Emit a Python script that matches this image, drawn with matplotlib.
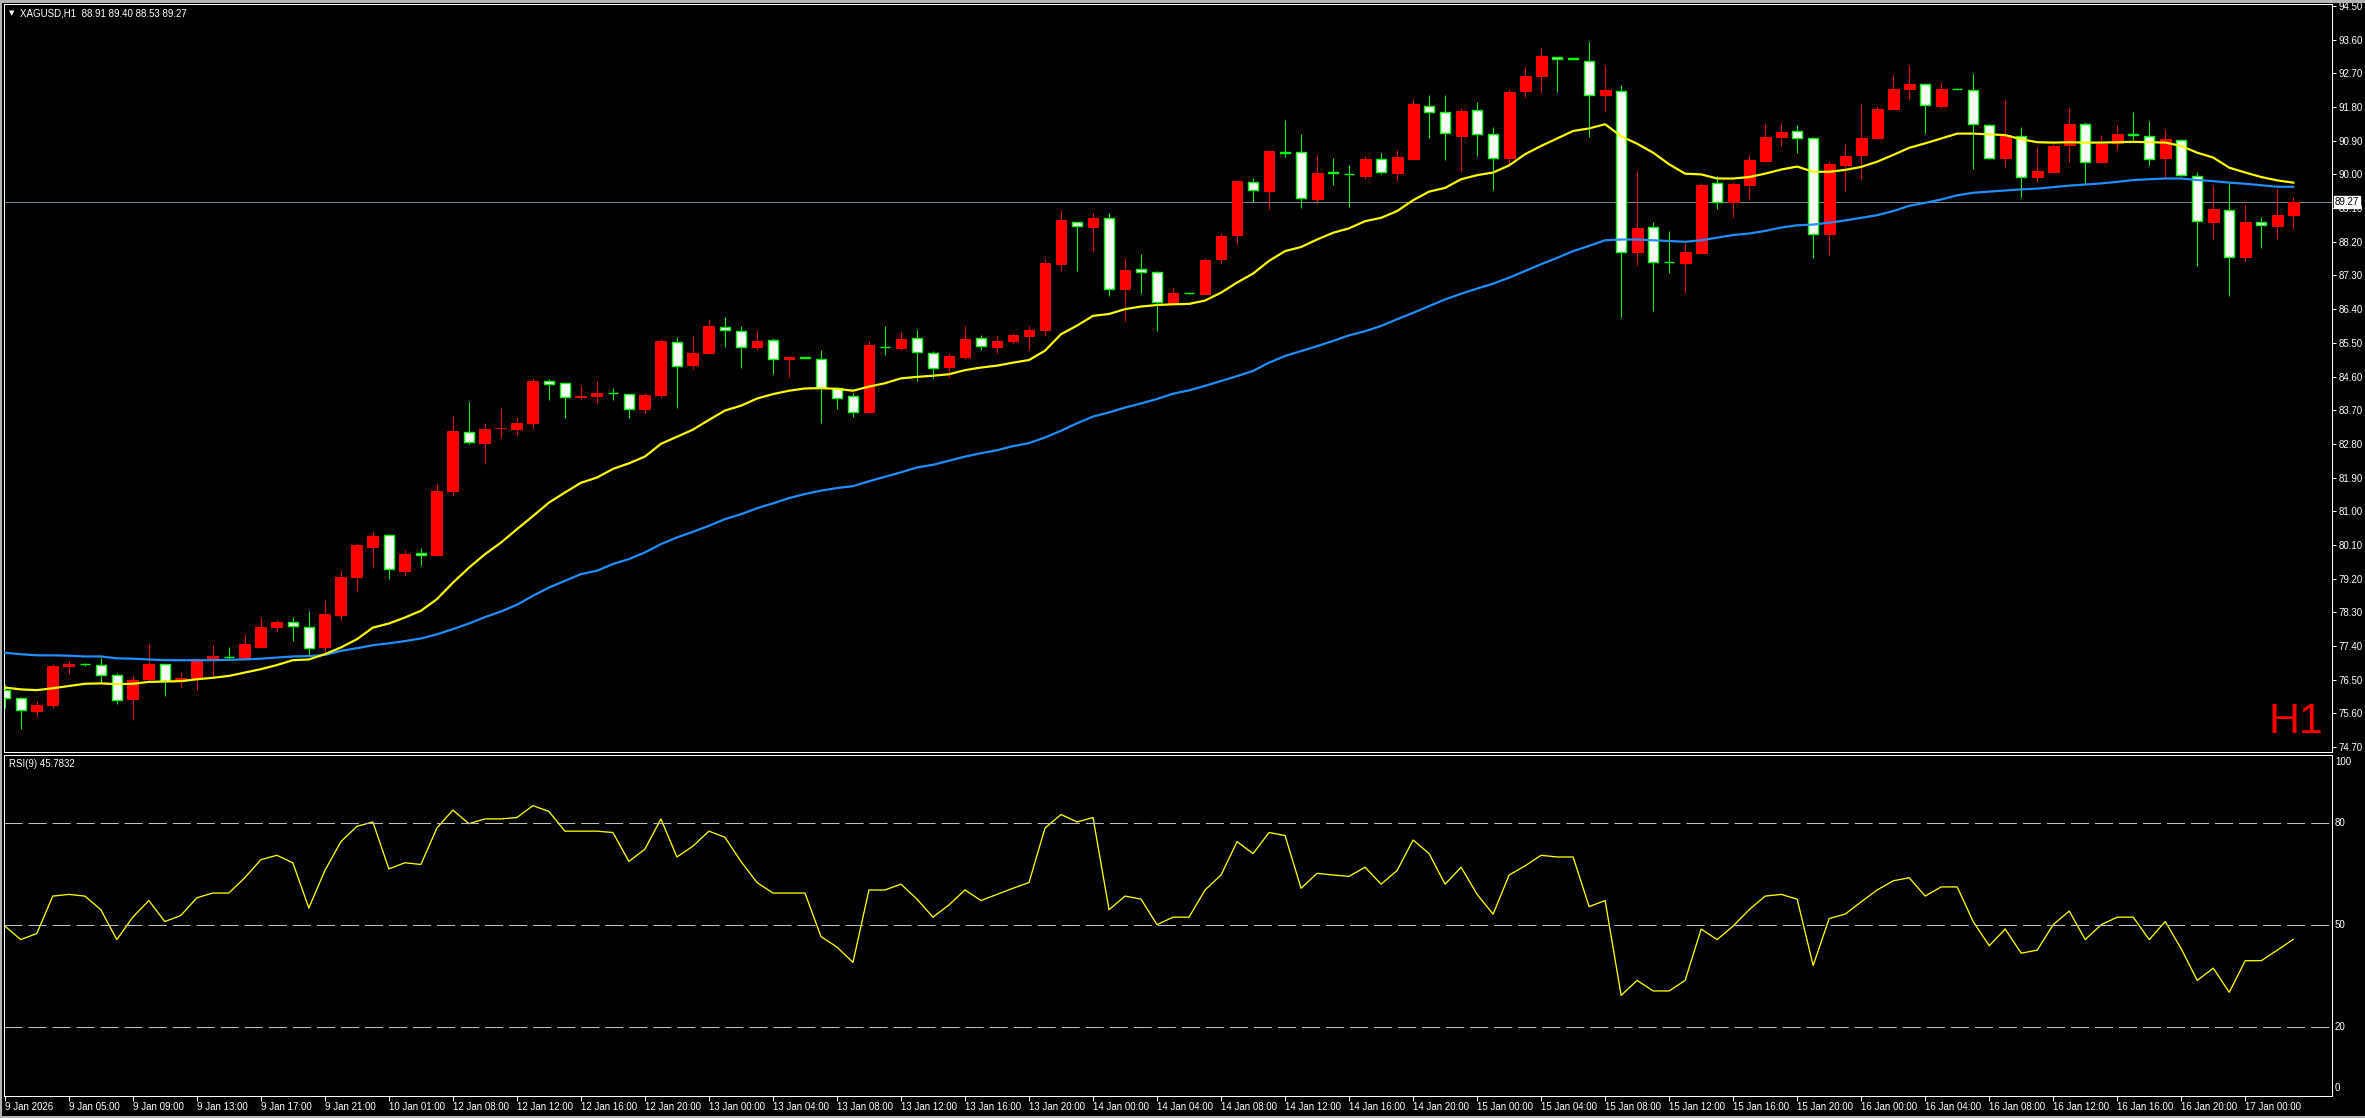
import matplotlib
matplotlib.use("Agg")
import matplotlib.pyplot as plt
import matplotlib.transforms as mtransforms
from matplotlib.patches import Rectangle
import numpy as np

plt.rcParams['font.family'] = ['Liberation Sans', 'DejaVu Sans']
plt.rcParams['lines.scale_dashes'] = False

# XAGUSD H1 candles, 9 Jan 01:00 .. 17 Jan 03:00
opens = [76.22, 76.01, 75.65, 75.81, 76.86, 76.92, 76.89, 76.62, 75.97, 76.51,
         76.92, 76.46, 76.53, 77.04, 77.11, 77.09, 77.38, 77.90, 78.03, 77.91,
         77.36, 78.24, 79.25, 80.05, 80.37, 79.40, 79.88, 79.84, 81.53, 83.12,
         82.82, 83.22, 83.21, 83.35, 84.48, 84.43, 84.05, 84.08, 84.16, 84.14,
         83.73, 84.10, 85.53, 84.91, 85.23, 85.93, 85.82, 85.39, 85.58, 85.07,
         85.11, 85.07, 84.30, 84.07, 83.64, 85.40, 85.36, 85.64, 85.24, 84.85,
         85.12, 85.63, 85.39, 85.56, 85.67, 85.84, 87.60, 88.74, 88.59, 88.84,
         86.94, 87.47, 87.39, 86.57, 86.83, 86.81, 87.73, 88.37, 89.80, 89.56,
         90.61, 90.60, 89.33, 90.06, 90.01, 89.97, 90.41, 90.05, 90.42, 91.84,
         91.67, 91.02, 91.72, 91.08, 90.43, 92.22, 92.62, 93.15, 93.10, 93.03,
         92.11, 92.23, 87.92, 88.59, 87.67, 87.62, 87.91, 89.78, 89.26, 89.73,
         90.37, 90.99, 91.16, 90.97, 88.40, 90.24, 90.51, 90.96, 91.74, 92.27,
         92.41, 91.82, 92.29, 92.25, 91.32, 90.43, 91.02, 89.93, 90.06, 90.78,
         91.35, 90.32, 90.83, 91.07, 91.03, 90.43, 90.91, 89.95, 88.74, 89.04,
         87.78, 88.72, 88.61, 88.91]
highs = [76.38, 76.04, 75.93, 76.91, 77.00, 76.94, 77.07, 76.69, 76.60, 77.46,
         76.93, 76.71, 77.09, 77.42, 77.36, 77.73, 78.18, 78.10, 78.18, 78.34,
         78.64, 79.42, 80.14, 80.45, 80.40, 79.97, 80.03, 81.74, 83.55, 83.93,
         83.37, 83.77, 83.53, 84.56, 84.53, 84.43, 84.37, 84.47, 84.28, 84.14,
         84.17, 85.61, 85.65, 85.67, 86.13, 86.18, 85.94, 85.83, 85.62, 85.16,
         85.12, 85.32, 84.33, 84.17, 85.56, 85.94, 85.79, 85.83, 85.29, 85.24,
         85.94, 85.72, 85.67, 85.76, 85.94, 87.73, 89.04, 88.74, 88.98, 88.98,
         87.76, 87.88, 87.43, 86.97, 86.84, 87.77, 88.44, 89.86, 89.91, 90.66,
         91.46, 91.09, 90.53, 90.45, 90.26, 90.50, 90.58, 90.66, 92.02, 92.13,
         92.13, 91.78, 91.94, 91.27, 92.27, 92.88, 93.39, 93.15, 93.11, 93.55,
         92.93, 92.39, 90.09, 88.74, 88.50, 88.17, 89.76, 89.96, 89.81, 90.53,
         91.35, 91.38, 91.33, 91.01, 90.36, 90.82, 91.89, 91.82, 92.66, 92.93,
         92.45, 92.48, 92.30, 92.69, 91.35, 91.98, 91.27, 90.72, 90.80, 91.78,
         91.40, 91.04, 91.33, 91.68, 91.44, 91.22, 90.95, 90.06, 89.72, 89.80,
         89.19, 88.87, 89.62, 89.40]
lows = [75.73, 75.17, 75.49, 75.75, 76.66, 76.86, 76.42, 75.84, 75.41, 76.46,
        76.05, 76.31, 76.22, 76.58, 77.02, 77.04, 77.37, 77.76, 77.52, 77.13,
        77.22, 78.10, 78.83, 79.49, 79.20, 79.29, 79.57, 79.84, 81.43, 82.79,
        82.25, 82.97, 83.03, 83.19, 83.96, 83.48, 83.96, 83.88, 83.97, 83.49,
        83.62, 84.02, 83.76, 84.80, 85.23, 85.38, 84.83, 85.31, 84.66, 84.58,
        85.09, 83.35, 83.73, 83.51, 83.64, 85.17, 85.32, 84.49, 84.56, 84.59,
        85.07, 85.32, 85.22, 85.47, 85.32, 85.71, 87.42, 87.42, 87.95, 86.75,
        86.08, 86.83, 85.81, 86.57, 86.81, 86.81, 87.62, 88.13, 89.27, 89.08,
        90.47, 89.09, 89.23, 89.73, 89.12, 89.89, 90.00, 89.83, 90.40, 90.96,
        90.38, 90.08, 90.48, 89.57, 90.27, 92.08, 92.17, 92.19, 93.08, 91.00,
        91.68, 86.19, 87.57, 86.34, 87.37, 86.82, 87.86, 89.07, 88.87, 89.31,
        90.32, 90.75, 90.56, 87.76, 87.84, 89.55, 89.89, 90.96, 91.74, 92.02,
        91.10, 91.77, 92.27, 90.14, 90.40, 90.21, 89.39, 89.81, 90.06, 90.32,
        89.74, 90.30, 90.64, 90.93, 90.24, 89.91, 89.97, 87.54, 88.28, 86.74,
        87.68, 88.04, 88.28, 88.53]
closes = [76.00, 75.69, 75.82, 76.87, 76.93, 76.91, 76.62, 75.96, 76.50, 76.93,
          76.46, 76.55, 77.00, 77.14, 77.10, 77.44, 77.92, 78.05, 77.93, 77.34,
          78.26, 79.25, 80.11, 80.35, 79.45, 79.87, 79.83, 81.54, 83.15, 82.84,
          83.21, 83.23, 83.37, 84.49, 84.39, 84.05, 84.07, 84.15, 84.15, 83.74,
          84.11, 85.54, 84.88, 85.24, 85.94, 85.85, 85.40, 85.56, 85.07, 85.11,
          85.10, 84.29, 84.03, 83.65, 85.43, 85.39, 85.61, 85.25, 84.83, 85.16,
          85.61, 85.42, 85.56, 85.70, 85.85, 87.62, 88.77, 88.63, 88.84, 86.95,
          87.45, 87.40, 86.60, 86.83, 86.82, 87.72, 88.35, 89.83, 89.58, 90.63,
          90.57, 89.37, 90.05, 90.05, 90.00, 90.42, 90.06, 90.47, 91.89, 91.67,
          91.11, 91.70, 91.08, 90.44, 92.21, 92.63, 93.17, 93.09, 93.09, 92.12,
          92.26, 87.93, 88.58, 87.66, 87.66, 87.93, 89.72, 89.27, 89.75, 90.39,
          91.01, 91.13, 90.97, 88.41, 90.29, 90.50, 90.98, 91.76, 92.29, 92.42,
          91.85, 92.29, 92.28, 91.35, 90.44, 91.05, 89.93, 90.09, 90.76, 91.35,
          90.34, 90.81, 91.08, 91.06, 90.41, 90.95, 89.99, 88.75, 89.08, 87.79,
          88.74, 88.66, 88.92, 89.27]

# moving averages as drawn on the chart
ma_fast = [76.29, 76.24, 76.22, 76.27, 76.33, 76.39, 76.40, 76.38, 76.39, 76.44,
           76.45, 76.46, 76.51, 76.55, 76.60, 76.69, 76.78, 76.89, 77.02, 77.04,
           77.18, 77.36, 77.58, 77.89, 78.00, 78.16, 78.34, 78.65, 79.09, 79.49,
           79.85, 80.16, 80.52, 80.87, 81.23, 81.50, 81.76, 81.90, 82.13, 82.28,
           82.46, 82.80, 82.99, 83.18, 83.44, 83.69, 83.82, 84.01, 84.13, 84.22,
           84.28, 84.29, 84.27, 84.22, 84.33, 84.42, 84.55, 84.59, 84.62, 84.66,
           84.77, 84.84, 84.89, 84.97, 85.04, 85.29, 85.73, 85.96, 86.22, 86.27,
           86.40, 86.47, 86.51, 86.53, 86.54, 86.63, 86.84, 87.11, 87.35, 87.69,
           87.95, 88.06, 88.26, 88.44, 88.56, 88.75, 88.84, 89.02, 89.31, 89.54,
           89.64, 89.87, 89.98, 90.05, 90.24, 90.54, 90.76, 90.96, 91.16, 91.23,
           91.34, 91.02, 90.82, 90.58, 90.27, 90.02, 90.00, 89.89, 89.89, 89.93,
           90.02, 90.13, 90.21, 90.07, 90.07, 90.12, 90.20, 90.34, 90.52, 90.71,
           90.83, 90.96, 91.09, 91.09, 91.07, 91.05, 90.94, 90.86, 90.85, 90.86,
           90.85, 90.85, 90.86, 90.87, 90.86, 90.85, 90.76, 90.58, 90.45, 90.18,
           90.05, 89.93, 89.84, 89.78]
ma_slow = [77.22, 77.18, 77.15, 77.15, 77.14, 77.12, 77.12, 77.07, 77.06, 77.04,
           77.02, 77.02, 77.02, 77.02, 77.03, 77.04, 77.06, 77.09, 77.12, 77.13,
           77.16, 77.27, 77.34, 77.42, 77.47, 77.53, 77.60, 77.71, 77.85, 78.00,
           78.17, 78.32, 78.50, 78.74, 78.96, 79.14, 79.32, 79.41, 79.59, 79.72,
           79.90, 80.12, 80.30, 80.45, 80.61, 80.79, 80.92, 81.08, 81.21, 81.35,
           81.46, 81.55, 81.62, 81.67, 81.80, 81.92, 82.04, 82.17, 82.24, 82.35,
           82.46, 82.55, 82.63, 82.74, 82.82, 82.97, 83.15, 83.35, 83.53, 83.64,
           83.77, 83.88, 84.00, 84.14, 84.23, 84.35, 84.48, 84.61, 84.75, 84.97,
           85.15, 85.28, 85.41, 85.55, 85.70, 85.81, 85.95, 86.13, 86.30, 86.48,
           86.66, 86.81, 86.95, 87.08, 87.24, 87.42, 87.60, 87.77, 87.95, 88.09,
           88.24, 88.26, 88.26, 88.24, 88.22, 88.20, 88.24, 88.31, 88.38, 88.42,
           88.49, 88.58, 88.64, 88.66, 88.71, 88.77, 88.84, 88.91, 89.02, 89.16,
           89.24, 89.33, 89.44, 89.51, 89.54, 89.57, 89.60, 89.62, 89.66, 89.70,
           89.73, 89.76, 89.80, 89.85, 89.87, 89.89, 89.89, 89.85, 89.82, 89.78,
           89.75, 89.71, 89.67, 89.67]

rsi = [49.7, 45.7, 47.5, 58.5, 59.0, 58.5, 54.5, 45.7, 52.3, 57.2,
       51.0, 52.8, 58.0, 59.4, 59.4, 63.9, 69.2, 70.5, 68.3, 55.0,
       66.0, 74.5, 79.0, 80.3, 66.5, 68.3, 67.8, 78.5, 83.8, 79.8,
       81.2, 81.2, 81.6, 85.1, 83.4, 77.6, 77.6, 77.6, 77.2, 68.7,
       72.3, 81.2, 70.0, 73.2, 77.6, 75.8, 68.7, 62.5, 59.4, 59.4,
       59.4, 46.6, 43.5, 39.0, 60.3, 60.3, 62.0, 57.6, 52.3, 55.9,
       60.3, 57.2, 59.0, 60.8, 62.5, 78.5, 82.5, 80.3, 81.6, 54.5,
       58.5, 57.6, 50.1, 52.3, 52.3, 60.3, 64.7, 74.5, 71.0, 77.2,
       76.3, 60.8, 65.2, 64.7, 64.3, 67.0, 62.0, 66.0, 75.0, 71.0,
       62.0, 67.0, 59.0, 53.2, 64.7, 67.4, 70.5, 70.0, 70.0, 55.4,
       57.2, 29.3, 33.7, 30.6, 30.6, 33.7, 48.8, 45.7, 49.7, 54.5,
       58.5, 59.0, 57.6, 38.1, 51.9, 53.2, 56.8, 60.3, 63.0, 63.9,
       58.5, 61.2, 61.2, 51.0, 43.9, 48.8, 41.7, 42.6, 50.1, 54.1,
       45.7, 50.1, 52.3, 52.3, 45.7, 51.0, 43.0, 33.7, 37.3, 30.2,
       39.5, 39.5, 42.6, 45.78]

time_labels = ['9 Jan 2026', '9 Jan 05:00', '9 Jan 09:00', '9 Jan 13:00', '9 Jan 17:00',
               '9 Jan 21:00', '10 Jan 01:00', '12 Jan 08:00', '12 Jan 12:00', '12 Jan 16:00',
               '12 Jan 20:00', '13 Jan 00:00', '13 Jan 04:00', '13 Jan 08:00', '13 Jan 12:00',
               '13 Jan 16:00', '13 Jan 20:00', '14 Jan 00:00', '14 Jan 04:00', '14 Jan 08:00',
               '14 Jan 12:00', '14 Jan 16:00', '14 Jan 20:00', '15 Jan 00:00', '15 Jan 04:00',
               '15 Jan 08:00', '15 Jan 12:00', '15 Jan 16:00', '15 Jan 20:00', '16 Jan 00:00',
               '16 Jan 04:00', '16 Jan 08:00', '16 Jan 12:00', '16 Jan 16:00', '16 Jan 20:00',
               '17 Jan 00:00']
price_ticks = [74.70, 75.60, 76.50, 77.40, 78.30, 79.20, 80.10, 81.00, 81.90, 82.80,
               83.70, 84.60, 85.50, 86.40, 87.30, 88.20, 89.10, 90.00, 90.90, 91.80,
               92.70, 93.60, 94.50]
rsi_levels = [20, 50, 80]
bid = 89.27

W, H = 2365, 1118
PX = 0.72  # one pixel in points

fig = plt.figure(figsize=(W / 100, H / 100), dpi=100, facecolor='black')
ax = fig.add_axes([3.5 / W, 1 - 752 / H, 2328.5 / W, 748 / H], facecolor='black')
ax2 = fig.add_axes([3.5 / W, 1 - 1096 / H, 2328.5 / W, 341 / H], facecolor='black')

x = np.arange(len(closes))
o = np.array(opens)
c = np.array(closes)
up = c >= o

# wicks
ax.vlines(x[up], np.array(lows)[up], np.array(highs)[up], color='#ff0000', lw=PX, zorder=2)
ax.vlines(x[~up], np.array(lows)[~up], np.array(highs)[~up], color='#00ff00', lw=PX, zorder=2)
# bodies
ax.bar(x[up], (c - o)[up], bottom=o[up], width=0.68, color='#ff0000',
       edgecolor='#ff0000', lw=PX, zorder=3)
ax.bar(x[~up], (c - o)[~up], bottom=o[~up], width=0.64, color='white',
       edgecolor='#00ff00', lw=1.4 * PX, zorder=3)

ax.plot(x, ma_slow, color='#1e90ff', lw=2.2 * PX, zorder=4)
ax.plot(x, ma_fast, color='#ffff00', lw=2.2 * PX, zorder=4)
ax.axhline(bid, color='#778899', lw=PX, zorder=1)

ax.set_xlim(-0.08, 145.42)
ax.set_ylim(74.567, 94.553)
ax.set_xticks([])
ax.yaxis.tick_right()
ax.set_yticks(price_ticks)
ax.set_yticklabels(['%.2f' % p for p in price_ticks])
ax.tick_params(axis='y', colors='white', labelcolor='white', labelsize=7,
               length=4 * PX, width=PX, pad=2)
for s in ax.spines.values():
    s.set_color('white')
    s.set_linewidth(PX)

trans = mtransforms.blended_transform_factory(ax.transAxes, ax.transData)
ax.text(1.0 + 3 / 2328, bid, '%.2f' % bid, transform=trans, ha='left', va='center',
        fontsize=7, color='black', zorder=10, clip_on=False,
        bbox=dict(facecolor='white', edgecolor='white', pad=0.8))

# RSI pane
ax2.plot(x, rsi, color='#ffff00', lw=1.3 * PX)
for lv in rsi_levels:
    ax2.axhline(lv, color='#c0c0c0', lw=PX, dashes=(13, 4.3))
ax2.set_xlim(-0.08, 145.42)
ax2.set_ylim(-0.3, 100)
ax2.set_yticks([])
ax2.set_xticks(np.arange(0, len(closes), 4))
ax2.set_xticklabels(time_labels)
ax2.tick_params(axis='x', colors='white', labelcolor='white', labelsize=7,
                length=5 * PX, width=PX, pad=0.5)
for lab in ax2.get_xticklabels():
    lab.set_ha('left')
for s in ax2.spines.values():
    s.set_color('white')
    s.set_linewidth(PX)

trans2 = mtransforms.blended_transform_factory(ax2.transAxes, ax2.transData)
for val, txt in [(97.9, '100'), (80, '80'), (50, '50'), (20, '20'), (2.0, '0')]:
    ax2.text(1.0 + 3 / 2328, val, txt, transform=trans2, ha='left', va='center',
             fontsize=7, color='white', clip_on=False)

# captions
fig.text(9 / W, 1 - 13 / H, '\u25bc', fontsize=5, color='white', va='center',
         family='DejaVu Sans')
fig.text(20 / W, 1 - 13 / H, 'XAGUSD,H1  88.91 89.40 88.53 89.27', fontsize=7,
         color='white', va='center')
fig.text(9 / W, 1 - 764 / H, 'RSI(9) 45.7832', fontsize=7, color='white', va='center')
fig.text(2323 / W, 1 - 733 / H, 'H1', fontsize=31, color='#ff0000', ha='right',
         va='baseline')

# window frame
for rx, ry, rw, rh in [(0, H - 3, W, 3), (0, 0, 2, H), (0, 0, W, 2)]:
    fig.patches.append(Rectangle((rx / W, ry / H), rw / W, rh / H, transform=fig.transFigure,
                                 facecolor='#b4b4b4', edgecolor='none'))

fig.savefig('out.png', dpi=100, facecolor='black')
